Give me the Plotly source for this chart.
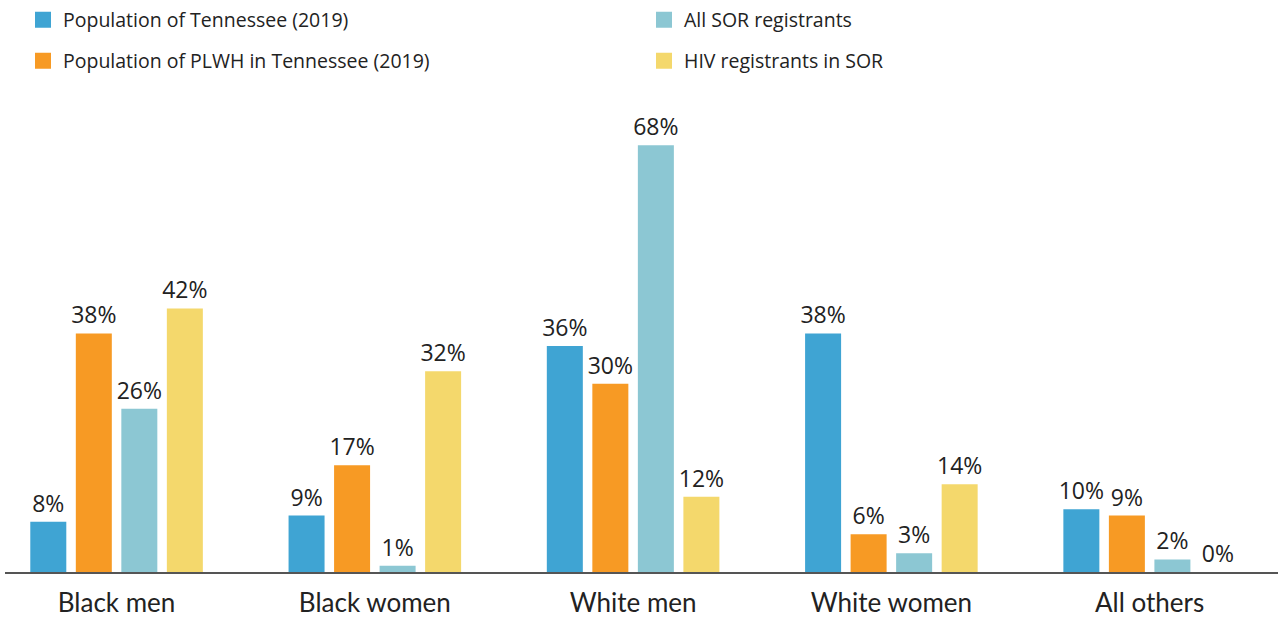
import plotly.graph_objects as go

categories = ["Black men", "Black women", "White men", "White women", "All others"]
series_names = ["Population of Tennessee (2019)", "Population of PLWH in Tennessee (2019)",
                "All SOR registrants", "HIV registrants in SOR"]
pop_tn = [8, 9, 36, 38, 10]
pop_plwh = [38, 17, 30, 6, 9]
all_sor = [26, 1, 68, 3, 2]
hiv_sor = [42, 32, 12, 14, 0]
colors = ["#3FA4D3", "#F79A24", "#8CC7D3", "#F4D86C"]
legend_ids = ["legend", "legend2", "legend", "legend2"]

FONT = "Open Sans"
fig = go.Figure()
for name, vals, col in zip(series_names, [pop_tn, pop_plwh, all_sor, hiv_sor], colors):
    fig.add_trace(go.Bar(
        x=categories, y=vals, name=name, marker_color=col, marker_line_width=0,
        text=[f"{v}%" for v in vals], textposition="outside", cliponaxis=False,
        constraintext="none",
        textfont=dict(family=FONT, size=23, color="#222222"), showlegend=False,
    ))
for name, col, lg in zip(series_names, colors, legend_ids):
    fig.add_trace(go.Scatter(
        x=[None], y=[None], mode="markers", name=name, legend=lg,
        marker=dict(symbol="square", size=16, color=col),
    ))

legend_common = dict(orientation="h", font=dict(family=FONT, size=19.5, color="#222222"),
                     entrywidth=576, entrywidthmode="pixels", bgcolor="rgba(0,0,0,0)",
                     xref="container", yref="container", xanchor="left", yanchor="middle",
                     itemclick=False, itemdoubleclick=False)
fig.update_layout(
    width=1278, height=619,
    margin=dict(l=5, r=0, t=100, b=47),
    paper_bgcolor="white", plot_bgcolor="white",
    barmode="group", bargap=0.295, bargroupgap=0.209,
    font=dict(family=FONT, size=20, color="#222222"),
    xaxis=dict(type="category", range=[-0.432, 4.497], showgrid=False, showline=True,
               linecolor="#555555", linewidth=1.5, ticks="",
               tickfont=dict(family="Lato", size=26, color="#222222"),
               ticklabelstandoff=7),
    yaxis=dict(range=[0, 75.2], visible=False),
    legend=dict(x=23 / 1278, y=1 - 20 / 619, **legend_common),
    legend2=dict(x=23 / 1278, y=1 - 61 / 619, **legend_common),
)
fig.write_html("out.html", config={"displayModeBar": False},
               post_script="document.body.style.margin='0';")
